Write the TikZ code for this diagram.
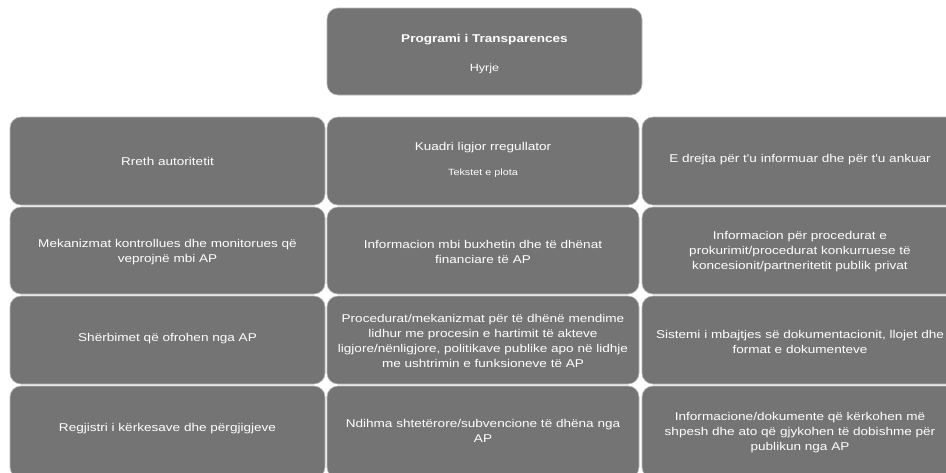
\documentclass[tikz,border=0pt]{standalone}
\usepackage{fontspec}
\setmainfont{Liberation Sans}
\newfontfamily\widesans[FakeStretch=1.2]{Liberation Sans}
\begin{document}
\begin{tikzpicture}[x=1pt,y=-1pt,
  cell/.style={draw=gray!55,line width=0.6pt,fill=boxgray,rounded corners=11pt},
  lbl/.style={text=white,align=center,font=\widesans\fontsize{11.3}{15}\selectfont,inner sep=0pt}]
\definecolor{boxgray}{RGB}{116,116,116}
\useasboundingbox[fill=white] (0,0) rectangle (946,472);
\begin{scope}
\clip (0,0) rectangle (946,472);
% top box
\draw[cell] (327,8) rectangle (642,95);
% grid
\foreach \yt/\yb [count=\r] in {117/205,207/294,296/384,386/478}{
  \draw[cell] (10,\yt) rectangle (325,\yb);
  \draw[cell] (327,\yt) rectangle (639,\yb);
  \draw[cell] (642,\yt) rectangle (960,\yb);
}
\end{scope}
\node[lbl,font=\widesans\bfseries\fontsize{11.3}{13}\selectfont] (title) at (484.5,40) {Programi i Transparences};
\node[lbl,font=\widesans\fontsize{10.5}{12}\selectfont] (hyrje) at (484.5,69) {Hyrje};
% row 1
\node[lbl] (a1) at (167.5,161) {Rreth autoritetit};
\node[lbl] (b1) at (483,148) {Kuadri ligjor rregullator};
\node[lbl,font=\widesans\fontsize{9}{10}\selectfont] (b1s) at (483,173) {Tekstet e plota};
\node[lbl] (c1) at (800,160) {E drejta për t'u informuar dhe për t'u ankuar};
% row 2
\node[lbl] (a2) at (167.5,252) {Mekanizmat kontrollues dhe monitorues që\\veprojnë mbi AP};
\node[lbl] (b2) at (483,252) {Informacion mbi buxhetin dhe të dhënat\\financiare të AP};
\node[lbl] (c2) at (800,252) {Informacion për procedurat e\\prokurimit/procedurat konkurruese të\\koncesionit/partneritetit publik privat};
% row 3
\node[lbl] (a3) at (167.5,339) {Shërbimet që ofrohen nga AP};
\node[lbl] (b3) at (483,341) {Procedurat/mekanizmat për të dhënë mendime\\lidhur me procesin e hartimit të akteve\\ligjore/nënligjore, politikave publike apo në lidhje\\me ushtrimin e funksioneve të AP};
\node[lbl] (c3) at (800,342) {Sistemi i mbajtjes së dokumentacionit, llojet dhe\\format e dokumenteve};
% row 4
\node[lbl] (a4) at (167.5,429) {Regjistri i kërkesave dhe përgjigjeve};
\node[lbl] (b4) at (483,431) {Ndihma shtetërore/subvencione të dhëna nga\\AP};
\node[lbl] (c4) at (800,433) {Informacione/dokumente që kërkohen më\\shpesh dhe ato që gjykohen të dobishme për\\publikun nga AP};
\end{tikzpicture}
\end{document}
